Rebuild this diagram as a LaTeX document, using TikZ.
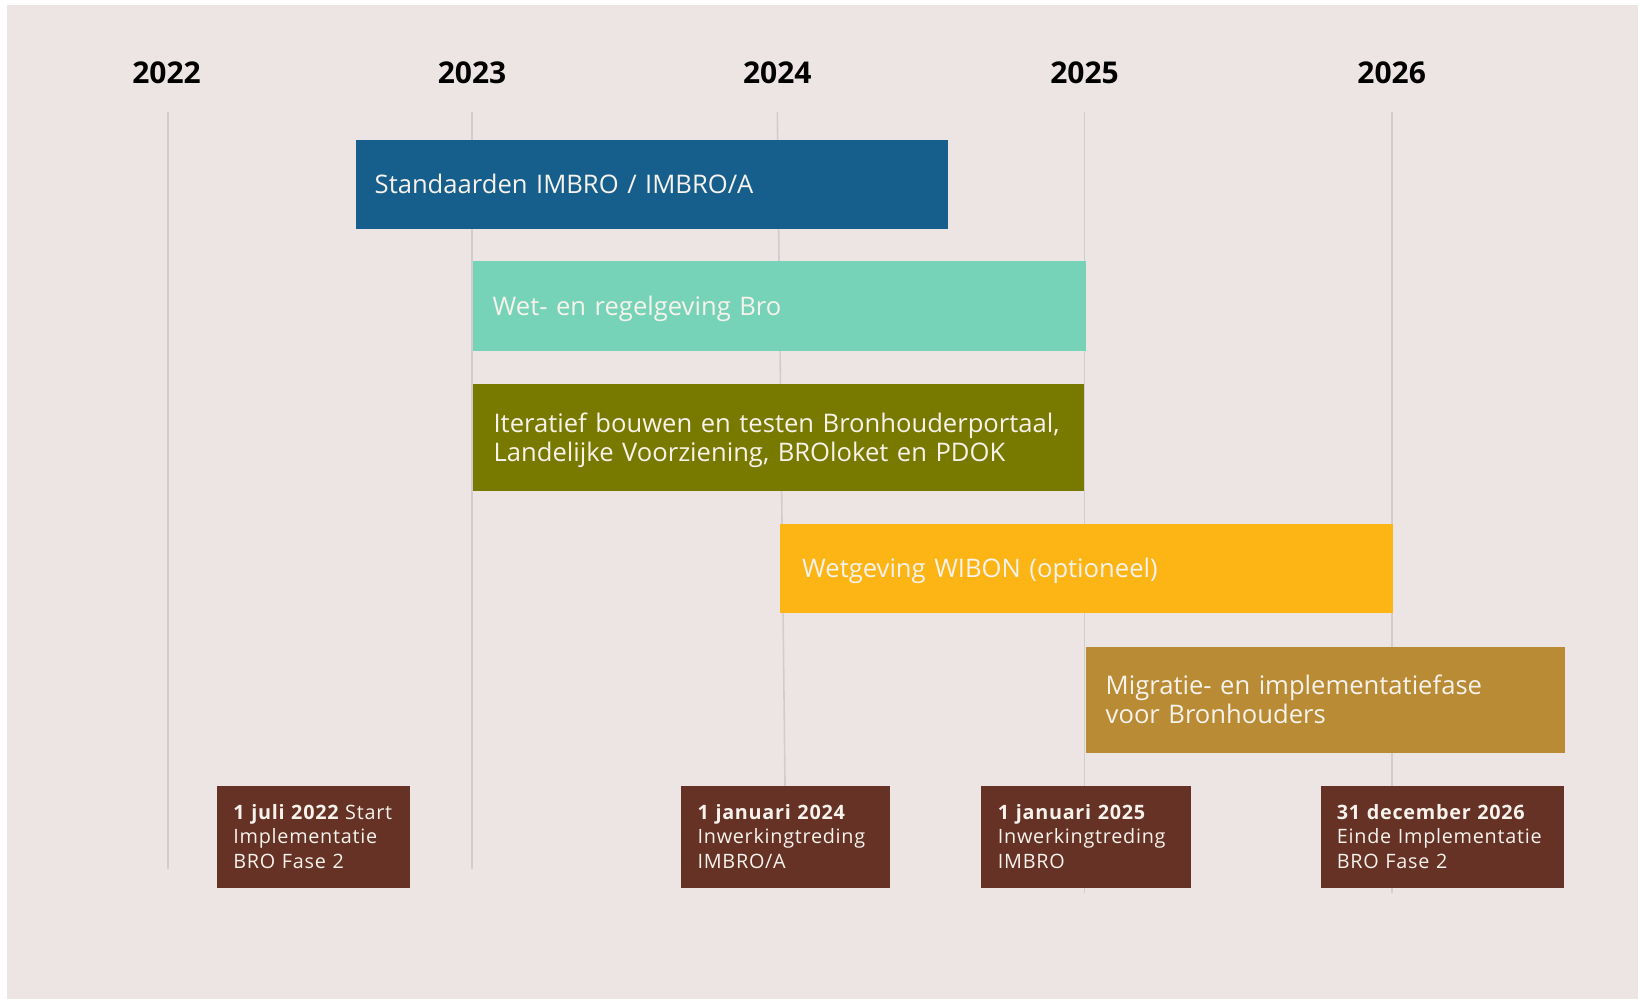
\documentclass[tikz,border=0pt]{standalone}
\usepackage{fontspec}
\setmainfont{Open Sans}
\newfontfamily\milefont{Open Sans}[LetterSpace=3.7]
\usetikzlibrary{calc}
\definecolor{bgc}{HTML}{EDE5E3}
\definecolor{gridc}{HTML}{D2CDCC}
\definecolor{cblue}{HTML}{165E8C}
\definecolor{cmint}{HTML}{76D3B8}
\definecolor{colive}{HTML}{787A00}
\definecolor{camber}{HTML}{FCB515}
\definecolor{cochre}{HTML}{BA8B35}
\definecolor{mstone}{HTML}{663226}
\definecolor{txt}{HTML}{F7F2EC}
\tikzset{
  gridline/.style={draw=gridc, line width=0.8pt},
  year/.style={font=\fontsize{15}{18}\selectfont\bfseries, text=black, anchor=base, inner sep=0pt},
  bar/.style={anchor=north west, inner sep=0pt, draw=none},
  bartext/.style={font=\fontsize{12.8}{14.6}\selectfont, text=txt, inner sep=0pt, align=left, text width=340pt, anchor=base west},
  milebox/.style={anchor=north west, inner sep=0pt, fill=mstone, minimum height=50.65pt},
  miletext/.style={font=\milefont\fontsize{9.9}{12.25}\selectfont, text=txt, inner sep=0pt, align=left, text width=150pt, anchor=base west},
}
\begin{document}
\begin{tikzpicture}[x=0.5pt,y=-0.5pt]
\useasboundingbox (0,0) rectangle (1638,999);
\fill[white] (0,0) rectangle (1638,999);
\fill[bgc] (7,5) rectangle (1638,999);

% year labels
\node[year] (y2022) at (166.5,84) {2022};
\node[year] (y2023) at (472,84) {2023};
\node[year] (y2024) at (777.3,84) {2024};
\node[year] (y2025) at (1084.5,84) {2025};
\node[year] (y2026) at (1391.7,84) {2026};

% grid lines
\coordinate (g22a) at (167.7,112); \coordinate (g22b) at (167.7,869);
\coordinate (g23a) at (472,112);   \coordinate (g23b) at (472,869);
\coordinate (g24a) at (777.3,112); \coordinate (g24b) at (785.2,800);
\coordinate (g25a) at (1084.5,112); \coordinate (g25b) at (1084.5,893);
\coordinate (g26a) at (1391.7,112); \coordinate (g26b) at (1391.7,893);
\draw[gridline] (g22a) -- (g22b);
\draw[gridline] (g23a) -- (g23b);
\draw[gridline] (g24a) -- (g24b);
\draw[gridline] (g25a) -- (g25b);
\draw[gridline] (g26a) -- (g26b);

% bars
\node[bar, fill=cblue, minimum width=296.1pt, minimum height=44.5pt] (b1) at (355.3,139.3) {};
\node[bartext] (t1) at ($(b1.west)+(19,9)$) {Standaarden IMBRO / IMBRO/A};

\node[bar, fill=cmint, minimum width=306.5pt, minimum height=44.85pt] (b2) at (472.3,261) {};
\node[bartext] (t2) at ($(b2.west)+(20,9)$) {Wet- en regelgeving Bro};

\node[bar, fill=colive, minimum width=305.3pt, minimum height=53.5pt] (b3) at (472.7,383.7) {};
\node[bartext] (t3) at ($(b3.west)+(20.5,-5)$) {Iteratief bouwen en testen Bronhouderportaal,\\Landelijke Voorziening, BROloket en PDOK};

\node[bar, fill=camber, minimum width=306.55pt, minimum height=44.4pt] (b4) at (779.3,523.3) {};
\node[bartext] (t4) at ($(b4.west)+(22.5,9)$) {Wetgeving WIBON (optioneel)};

\node[bar, fill=cochre, minimum width=239.75pt, minimum height=52.75pt] (b5) at (1085.3,646.6) {};
\node[bartext] (t5) at ($(b5.west)+(20,-5)$) {Migratie- en implementatiefase\\voor Bronhouders};

% milestones
\node[milebox, minimum width=96.25pt] (m1) at (217,786) {};
\node[miletext] (mt1) at ($(m1.north west)+(16,33)$) {{\bfseries 1 juli 2022} Start\\Implementatie\\BRO Fase 2};

\node[milebox, minimum width=104.3pt] (m2) at (680.7,786) {};
\node[miletext] (mt2) at ($(m2.north west)+(16.5,33)$) {{\bfseries 1 januari 2024}\\Inwerkingtreding\\IMBRO/A};

\node[milebox, minimum width=105pt] (m3) at (981,786) {};
\node[miletext] (mt3) at ($(m3.north west)+(16.5,33)$) {{\bfseries 1 januari 2025}\\Inwerkingtreding\\IMBRO};

\node[milebox, minimum width=121.25pt] (m4) at (1321,786) {};
\node[miletext] (mt4) at ($(m4.north west)+(15.5,33)$) {{\bfseries 31 december 2026}\\Einde Implementatie\\BRO Fase 2};
\end{tikzpicture}
\end{document}
